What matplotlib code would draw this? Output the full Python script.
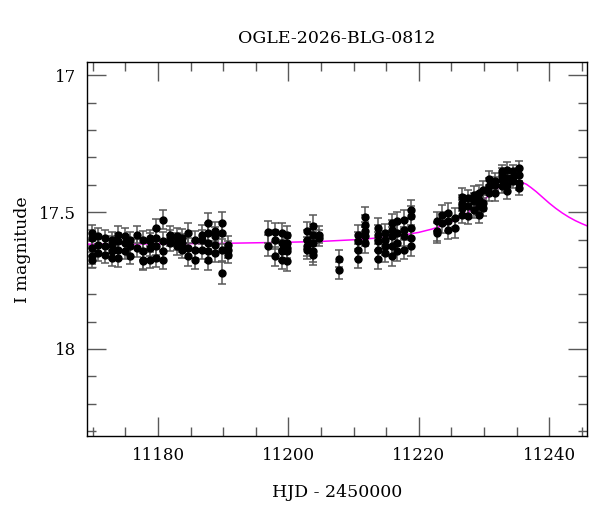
import matplotlib
matplotlib.use('Agg')
import matplotlib.pyplot as plt
from matplotlib.ticker import MultipleLocator

# OGLE photometry, one entry per night (HJD - 2450000)
night_hjd = [11169.8, 11170.8, 11171.9, 11172.9, 11173.9, 11174.9, 11175.7, 11176.7,
             11177.7, 11178.8, 11179.7, 11180.7, 11181.8, 11182.9, 11183.6, 11184.6,
             11185.7, 11186.7, 11187.7, 11188.7, 11189.8, 11190.8,
             11196.9, 11197.95, 11198.98, 11199.75, 11202.8, 11203.7, 11204.75,
             11207.8, 11210.7, 11211.8, 11213.8, 11214.8, 11215.9, 11216.6,
             11217.75, 11218.8,
             11222.8, 11223.5, 11224.55, 11225.6, 11226.6, 11227.6, 11228.4,
             11229.3, 11229.9, 11230.8, 11231.7, 11232.7, 11233.5, 11234.5, 11235.4]

night_mags = [
    [17.576, 17.594, 17.631, 17.661, 17.674],
    [17.588, 17.619, 17.649],
    [17.594, 17.625, 17.655],
    [17.601, 17.619, 17.643, 17.668],
    [17.582, 17.607, 17.637, 17.668],
    [17.588, 17.613, 17.643],
    [17.601, 17.625, 17.661],
    [17.582, 17.631],
    [17.601, 17.643, 17.674, 17.680],
    [17.594, 17.607, 17.631, 17.674],
    [17.558, 17.594, 17.625, 17.668],
    [17.528, 17.607, 17.643, 17.674],
    [17.582, 17.594, 17.613],
    [17.588, 17.607, 17.625],
    [17.594, 17.613, 17.637],
    [17.576, 17.631, 17.661],
    [17.601, 17.637, 17.674],
    [17.582, 17.601, 17.637],
    [17.540, 17.576, 17.613, 17.643, 17.674],
    [17.570, 17.588, 17.619, 17.649],
    [17.540, 17.576, 17.637, 17.722],
    [17.619, 17.637, 17.655],
    [17.574, 17.622],
    [17.574, 17.601, 17.661],
    [17.576, 17.613, 17.637, 17.643, 17.674],
    [17.585, 17.613, 17.631, 17.643, 17.680],
    [17.570, 17.601, 17.625, 17.637],
    [17.552, 17.582, 17.613, 17.643, 17.655],
    [17.582, 17.595],
    [17.670, 17.713],
    [17.582, 17.607, 17.637, 17.670],
    [17.518, 17.546, 17.570, 17.588, 17.613],
    [17.558, 17.582, 17.607, 17.637, 17.673],
    [17.576, 17.601, 17.625, 17.649],
    [17.540, 17.564, 17.588, 17.625, 17.661],
    [17.534, 17.576, 17.613, 17.643],
    [17.528, 17.564, 17.588, 17.637],
    [17.491, 17.513, 17.558, 17.595, 17.625],
    [17.534, 17.570, 17.576],
    [17.509, 17.540],
    [17.503, 17.534, 17.564],
    [17.521, 17.558],
    [17.443, 17.467, 17.485, 17.509],
    [17.448, 17.479, 17.515],
    [17.436, 17.461, 17.491],
    [17.430, 17.455, 17.479, 17.509],
    [17.418, 17.467, 17.485],
    [17.379, 17.406, 17.430],
    [17.388, 17.400, 17.430],
    [17.351, 17.363, 17.382, 17.406],
    [17.345, 17.375, 17.400, 17.424],
    [17.351, 17.370, 17.388],
    [17.339, 17.363, 17.394, 17.412],
]

night_err = [0.030, 0.030, 0.030, 0.030, 0.032, 0.030, 0.030, 0.032,
             0.032, 0.030, 0.032, 0.035, 0.030, 0.030, 0.032, 0.035,
             0.032, 0.035, 0.038, 0.035, 0.040, 0.030,
             0.040, 0.035, 0.035, 0.035, 0.035, 0.040, 0.030,
             0.030, 0.035, 0.035, 0.035, 0.032, 0.035, 0.035,
             0.035, 0.035,
             0.035, 0.035, 0.035, 0.035, 0.030, 0.030, 0.030,
             0.030, 0.030, 0.030, 0.030, 0.025, 0.028, 0.025, 0.025]

# microlensing model curve
model_hjd = [11169.0, 11180.0, 11190.0, 11200.0, 11205.0, 11210.0, 11214.0, 11217.0,
             11220.0, 11222.0, 11224.0, 11226.0, 11227.0, 11228.0, 11229.0, 11230.0,
             11231.5, 11232.2, 11233.0, 11233.8, 11234.7, 11235.6, 11236.5, 11237.2,
             11238.0, 11239.0, 11240.0, 11241.0, 11242.0, 11243.0, 11244.0, 11245.0,
             11246.0]
model_mag = [17.617, 17.616, 17.614, 17.610, 17.607, 17.601, 17.594, 17.586,
             17.574, 17.562, 17.546, 17.524, 17.510, 17.493, 17.475, 17.455,
             17.423, 17.410, 17.397, 17.389, 17.385, 17.389, 17.398, 17.410,
             17.425, 17.446, 17.467, 17.486, 17.503, 17.518, 17.531, 17.542,
             17.552]

hjd, mag, err = [], [], []
for t, ms, e in zip(night_hjd, night_mags, night_err):
    for m in ms:
        hjd.append(t)
        mag.append(m)
        err.append(e)

plt.rcParams['font.family'] = ['DejaVu Serif']

fig = plt.figure(figsize=(6, 5.12), dpi=100)
ax = fig.add_axes([0.1455, 0.148, 0.8323, 0.7305])

ax.errorbar(hjd, mag, yerr=err, fmt='o', color='black', ms=5,
            ecolor='0.35', elinewidth=1.1, capsize=3, capthick=1.1, zorder=3)
ax.plot(model_hjd, model_mag, color='magenta', lw=1.1, zorder=2)

ax.set_xlim(11169.15, 11245.75)
ax.set_ylim(18.319, 16.952)

ax.xaxis.set_major_locator(MultipleLocator(20))
ax.xaxis.set_minor_locator(MultipleLocator(5))
ax.yaxis.set_major_locator(MultipleLocator(0.5))
ax.yaxis.set_minor_locator(MultipleLocator(0.1))
ax.yaxis.set_major_formatter(plt.FuncFormatter(lambda v, p: f'{v:g}'))

ax.tick_params(which='both', direction='in', top=True, right=True,
               color='0.35', labelsize=12)
ax.tick_params(which='major', length=13.5, width=1.0, pad=8)
ax.tick_params(which='minor', length=6.5, width=1.0)
for s in ax.spines.values():
    s.set_linewidth(1.0)

ax.set_title('OGLE-2026-BLG-0812', fontsize=12.5, pad=14)
ax.set_xlabel('HJD - 2450000', fontsize=12.5, labelpad=14)
ax.set_ylabel('I magnitude', fontsize=12.5, labelpad=6)

fig.savefig('out.png', dpi=100)
